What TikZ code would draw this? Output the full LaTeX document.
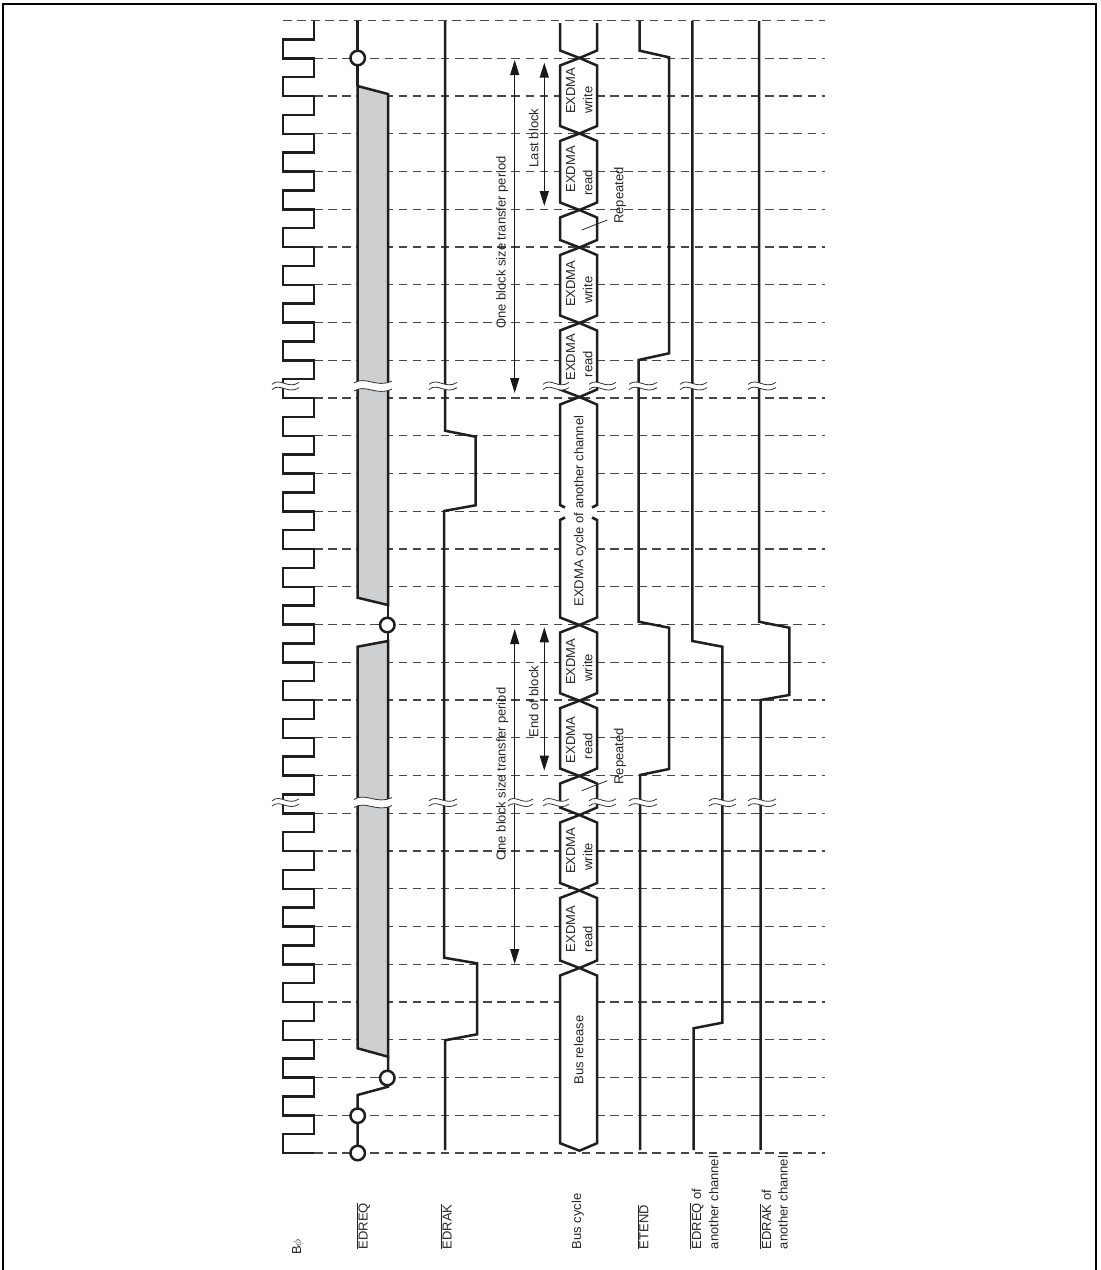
\documentclass[tikz,border=0pt]{standalone}
\usepackage{fontspec}
\setmainfont{Liberation Sans}
\usetikzlibrary{arrows.meta}
\newcommand{\ovl}[1]{$\overline{\mbox{#1}}$}
\definecolor{bandgray}{RGB}{205,207,209}
\tikzset{
  grid line/.style={draw=black!72,line width=1.2pt,dash pattern=on 8.5pt off 5.6pt},
  signal/.style={draw=black!88,line width=2.5pt,line join=miter,line cap=butt},
  busy/.style={signal,fill=white},
  band/.style={signal,fill=bandgray},
  pin/.style={circle,draw=black!88,fill=white,line width=2.5pt,minimum size=14.5pt,inner sep=0pt},
  lbl/.style={rotate=90,anchor=base west,inner sep=0pt,font=\fontsize{13}{15}\selectfont,text=black!85},
  lblc/.style={rotate=90,anchor=base,inner sep=0pt,font=\fontsize{13}{15}\selectfont,text=black!85},
  span arrow/.style={draw=black!90,line width=1pt,{Triangle[length=15pt,width=9pt]}-{Triangle[length=15pt,width=9pt]}},
  block arrow/.style={draw=black!90,line width=1.5pt,{Triangle[length=15pt,width=9pt]}-{Triangle[length=15pt,width=9pt]}},
  leader/.style={draw=black!85,line width=0.8pt},
  cut/.style={draw=black!80,line width=0.8pt},
}
% break mark: x1, x2, y, half separation
\newcommand{\brk}[4]{%
  \fill[white] (#1,#3-#4+1) .. controls ({#1+0.3*(#2-#1)},#3-#4-6.5) and ({#1+0.6*(#2-#1)},#3-#4+6.5) .. (#2,#3-#4-1)
    -- (#2,#3+#4-1) .. controls ({#1+0.6*(#2-#1)},#3+#4+6.5) and ({#1+0.3*(#2-#1)},#3+#4-6.5) .. (#1,#3+#4+1) -- cycle;
  \draw[cut] (#1,#3-#4+1) .. controls ({#1+0.3*(#2-#1)},#3-#4-6.5) and ({#1+0.6*(#2-#1)},#3-#4+6.5) .. (#2,#3-#4-1);
  \draw[cut] (#1,#3+#4+1) .. controls ({#1+0.3*(#2-#1)},#3+#4-6.5) and ({#1+0.6*(#2-#1)},#3+#4+6.5) .. (#2,#3+#4-1);
}
% bus hexagon between crossings
\newcommand{\hexa}[2]{\draw[busy] (579.5,#1) -- (597,#1+7.5) -- (597,#2-7.5) -- (579.5,#2) -- (560,#2-7.5) -- (560,#1+7.5) -- cycle;}
\begin{document}
\begin{tikzpicture}[x=1pt,y=-1pt]
\useasboundingbox (0,0) rectangle (1101,1270);
% frame
\draw[black,line width=2pt] (3,1270) -- (3,4) -- (1096,4) -- (1096,1270);
% grid
\draw[grid line] (283,20.5) -- (825,20.5);
\foreach \i in {1,...,30} { \draw[grid line] (314,{20.5+37.75*\i}) -- (825,{20.5+37.75*\i}); }
% clock
\draw[signal] (314,1153) -- (283,1153)
  \foreach \i in {30,29,...,1} { -- (283,{20.5+37.75*\i-18.875}) -- (314,{20.5+37.75*\i-18.875}) -- (314,{20.5+37.75*(\i-1)}) \ifnum\i>1 -- (283,{20.5+37.75*(\i-1)})\fi };
% EDREQ
\draw[signal] (357.5,21) -- (357.5,86);
\draw[band] (357.5,86) -- (388,94) -- (388,605) -- (357.5,597.7) -- cycle;
\draw[signal] (388,605) -- (388,641);
\draw[band] (388,641) -- (357.5,646.7) -- (357.5,1048.3) -- (388,1056.7) -- cycle;
\draw[signal] (388,1056.7) -- (388,1086.7) -- (357.5,1095) -- (357.5,1153);
\node[pin] (c1) at (357.7,58) {};
\node[pin] (c2) at (387.3,625) {};
\node[pin] (c3) at (387.3,1078) {};
\node[pin] (c4) at (357.7,1115.7) {};
\node[pin] (c5) at (357.7,1153) {};
% EDRAK
\draw[signal] (445,21) -- (445,430.7) -- (475.5,436.7) -- (475.5,505.3) -- (444,511) -- (444,957.7) -- (477,963.3) -- (477,1034.3) -- (445,1040.3) -- (445,1150);
% ETEND
\draw[signal] (639.7,20.5) -- (639.7,50.7) -- (669,57.3) -- (669,353.3) -- (638.5,360) -- (638.5,621.7) -- (669,627.7) -- (669,769) -- (640,775) -- (640,1150);
% EDREQ other
\draw[signal] (692.3,21) -- (692.3,641) -- (722.3,646.7) -- (722.3,1022.7) -- (693.5,1028.3) -- (693.5,1150);
% EDRAK other
\draw[signal] (759,21) -- (759,621.7) -- (789.3,627.7) -- (789.3,695) -- (760.7,700) -- (760.7,1150);
% bus cycle
\draw[busy] (560,23) -- (560,50.5) -- (579.5,58) -- (597,50.5) -- (597,23);
\hexa{58}{133.5}
\hexa{133.5}{210}
\hexa{210}{247.5}
\hexa{247.5}{323}
\hexa{323}{397}
\fill[white] (560,404.5) rectangle (597,617.5);
\draw[signal] (579.5,397) -- (597,404.5) -- (597,505) -- (592,507.5);
\draw[signal] (579.5,397) -- (560,404.5) -- (560,505) -- (565,507.5);
\draw[signal] (592,517.5) -- (597,520) -- (597,617.5) -- (579.5,625);
\draw[signal] (565,517.5) -- (560,520) -- (560,617.5) -- (579.5,625);
\hexa{625}{700.7}
\hexa{700.7}{776}
\hexa{776}{815}
\hexa{815}{890.5}
\hexa{890.5}{968}
\hexa{968}{1150.7}
% bus texts
\node[lbl] (w1) at (575,114) {EXDMA};
\node[lbl] (w1b) at (592.3,114) {write};
\node[lbl] (r1) at (575,192.7) {EXDMA};
\node[lbl] (r1b) at (592.3,196) {read};
\node[lbl] (w2) at (575,307) {EXDMA};
\node[lbl] (w2b) at (592.3,304) {write};
\node[lbl] (r2) at (575,380.7) {EXDMA};
\node[lbl] (r2b) at (592.3,377.3) {read};
\node[lbl] (w3) at (575,685) {EXDMA};
\node[lbl] (w3b) at (592.3,681.7) {write};
\node[lbl] (r3) at (575,763.3) {EXDMA};
\node[lbl] (r3b) at (592.3,759.3) {read};
\node[lbl] (w4) at (575,874) {EXDMA};
\node[lbl] (w4b) at (592.3,870.7) {write};
\node[lbl] (r4) at (575,952.3) {EXDMA};
\node[lbl] (r4b) at (592.3,952.3) {read};
\node[lblc] (oc) at (583.3,511) {EXDMA cycle of another channel};
\node[lblc] (br) at (583.3,1050) {Bus release};
% repeated
\node[lblc] (rp1) at (623.3,195.5) {Repeated};
\node[lblc] (rp2) at (623.3,756.3) {Repeated};
\coordinate (rp1a) at (581.7,230); \coordinate (rp1b) at (607.3,220);
\coordinate (rp2a) at (581.7,790.7); \coordinate (rp2b) at (607.3,780.7);
\draw[leader] (rp1a) -- (rp1b);
\draw[leader] (rp2a) -- (rp2b);
% arrows
\coordinate (a1t) at (514.7,60); \coordinate (a1b) at (514.7,393);
\coordinate (a2t) at (514.7,629); \coordinate (a2b) at (514.7,964);
\coordinate (a3t) at (544.3,62.7); \coordinate (a3b) at (544.3,206);
\coordinate (a4t) at (544.3,627.3); \coordinate (a4b) at (544.3,770.7);
\draw[span arrow] (a1t) -- (a1b);
\draw[span arrow] (a2t) -- (a2b);
\draw[block arrow] (a3t) -- (a3b);
\draw[block arrow] (a4t) -- (a4b);
\node[lblc] (t1) at (505.7,242.5) {One block size transfer period};
\node[lblc] (t2) at (505.7,774) {One block size transfer period};
\node[lblc] (t3) at (538.3,138) {Last block};
\node[lblc] (t4) at (538.3,701.7) {End of block};
% breaks
\foreach \y/\xa/\xb in {386/272/299,802.5/272/299,386/429/457,802.5/429/457,386/543/569,802.5/543/569,386/589/616,802.5/589/616,386/629/657,802.5/629/657,386/680/707,802.5/709/736,386/748/776,802.5/748/776,802.5/508/533} { \brk{\xa}{\xb}{\y}{2.6} }
\foreach \y in {386,802.5} { \brk{354}{392}{\y}{4} }
% signal names
\node[lbl] (n1) at (301,1255) {B$\phi$};
\node[lbl] (n2) at (367.7,1249.3) {\ovl{EDREQ}};
\node[lbl] (n3) at (451.7,1249.3) {\ovl{EDRAK}};
\node[lbl] (n4) at (581,1249.3) {Bus cycle};
\node[lbl] (n5) at (648.3,1249.3) {\ovl{ETEND}};
\node[lbl] (n6) at (701,1249.3) {\ovl{EDREQ} of};
\node[lbl] (n6b) at (718.3,1249.3) {another channel};
\node[lbl] (n7) at (771,1249.3) {\ovl{EDRAK} of};
\node[lbl] (n7b) at (787.7,1249.3) {another channel};
\end{tikzpicture}
\end{document}
